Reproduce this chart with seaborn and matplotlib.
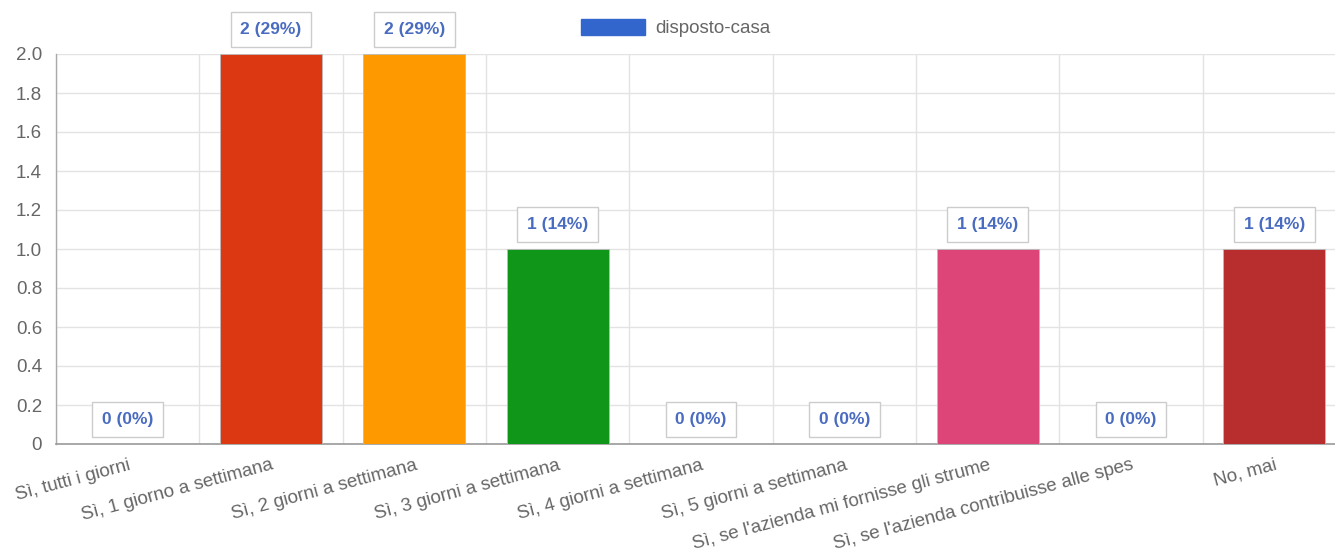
import numpy as np
import pandas as pd
import matplotlib
matplotlib.use("Agg")
import matplotlib.pyplot as plt
from matplotlib.patches import Patch
import seaborn as sns

categories = [
    "Sì, tutti i giorni",
    "Sì, 1 giorno a settimana",
    "Sì, 2 giorni a settimana",
    "Sì, 3 giorni a settimana",
    "Sì, 4 giorni a settimana",
    "Sì, 5 giorni a settimana",
    "Sì, se l'azienda mi fornisse gli strume",
    "Sì, se l'azienda contribuisse alle spes",
    "No, mai",
]
counts = [0, 2, 2, 1, 0, 0, 1, 0, 1]
percents = [0, 29, 29, 14, 0, 0, 14, 0, 14]
colors = ["#3366cc", "#dc3912", "#ff9900", "#109618", "#990099",
          "#0099c6", "#dd4477", "#66aa00", "#b82e2e"]
series_name = "disposto-casa"
legend_color = "#3366cc"
y_ticks = [0, 0.2, 0.4, 0.6, 0.8, 1.0, 1.2, 1.4, 1.6, 1.8, 2.0]

sns.set_theme(style="white")
plt.rcParams["font.family"] = ["Liberation Sans", "DejaVu Sans"]

df = pd.DataFrame({"cat": categories, "n": counts})

W, H = 1335, 553
fig = plt.figure(figsize=(W / 100, H / 100), dpi=100)
ax = fig.add_axes([56 / W, 1 - 444 / H, 1290 / W, 390 / H])

sns.barplot(data=df, x="cat", y="n", hue="cat", palette=colors,
            legend=False, width=0.71, ax=ax, saturation=1,
            edgecolor="#bbbbbb", linewidth=0.6, zorder=3)

ax.set_xlim(-0.5, len(categories) - 0.5)
ax.set_ylim(0, 2.0)
ax.set_yticks(y_ticks)
ax.set_yticklabels(["0"] + ["%.1f" % v for v in y_ticks[1:]])
ax.set_xlabel("")
ax.set_ylabel("")

grid_c = "#e3e3e3"
ax.yaxis.grid(True, color=grid_c, linewidth=1, zorder=0)
ax.set_xticks(np.arange(-0.5, len(categories)), minor=True)
ax.xaxis.grid(True, which="minor", color=grid_c, linewidth=1, zorder=0)
ax.tick_params(axis="x", which="minor", length=8, color=grid_c, width=1)
ax.tick_params(axis="x", which="major", length=0, pad=9)
ax.tick_params(axis="y", length=8, color=grid_c, width=1, pad=2)
ax.set_xticks(range(len(categories)))
ax.set_xticklabels(categories, rotation=15, ha="right", rotation_mode="anchor",
                   color="#666666", fontsize=13.5)
for lab in ax.get_yticklabels():
    lab.set_color("#666666")
    lab.set_fontsize(13.5)

for s in ["top", "right"]:
    ax.spines[s].set_visible(False)
ax.spines["left"].set_color("#aaaaaa")
ax.spines["bottom"].set_color("#999999")
ax.spines["left"].set_linewidth(1)
ax.spines["bottom"].set_linewidth(1.2)

for i, (c, p) in enumerate(zip(counts, percents)):
    ax.annotate("%d (%d%%)" % (c, p), xy=(i, c), xytext=(0, 17),
                textcoords="offset pixels", ha="center", va="bottom",
                fontsize=12.5, fontweight="bold", color="#4a6cc0",
                bbox=dict(boxstyle="square,pad=0.55", fc="white",
                          ec="#cccccc", lw=1), zorder=5,
                annotation_clip=False)

handle = Patch(facecolor=legend_color, edgecolor=legend_color)
fig.legend([handle], [series_name], loc="center",
           bbox_to_anchor=(676 / W, 1 - 28 / H), frameon=False,
           handlelength=3.4, handleheight=1.0, handletextpad=0.55,
           fontsize=13.5, labelcolor="#666666")

fig.savefig("out.png", dpi=100)
